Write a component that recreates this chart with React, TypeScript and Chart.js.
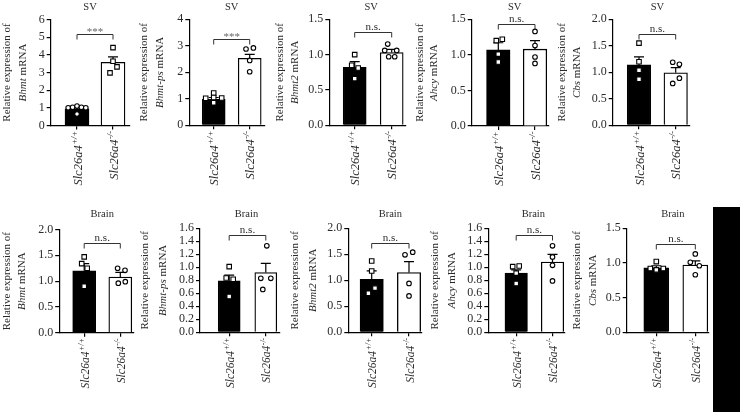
import React, { useEffect, useRef } from 'react';
import { Chart, registerables } from 'chart.js';

Chart.register(...registerables);

const FONT = '"Liberation Serif", "Times New Roman", Times, serif';
const TEXT = '#2a2a2a';

// ---------- data ----------
const rowTitles = ['SV', 'Brain'];
const genes = ['Bhmt', 'Bhmt-ps', 'Bhmt2', 'Ahcy', 'Cbs', 'Bhmt', 'Bhmt-ps', 'Bhmt2', 'Ahcy', 'Cbs'];
const groupNames = ['Slc26a4', 'Slc26a4'];
const groupGenotypes = ['+/+', '-/-'];

const yMax = [6, 4, 1.5, 1.5, 2, 2, 1.6, 2, 1.6, 1.5];
const yStep = [1, 1, 0.5, 0.5, 0.5, 0.5, 0.2, 0.5, 0.2, 0.5];

const wtMean = [0.95, 0.98, 0.82, 1.07, 1.14, 1.2, 0.79, 1.02, 0.91, 0.93];
const wtSem = [0.08, 0.07, 0.08, 0.1, 0.15, 0.14, 0.09, 0.16, 0.05, 0.03];
const koMean = [3.58, 2.53, 1.03, 1.08, 0.99, 1.08, 0.92, 1.15, 1.08, 0.97];
const koSem = [0.3, 0.15, 0.045, 0.12, 0.1, 0.09, 0.14, 0.21, 0.12, 0.06];

const wtPoints = [
  [1.0, 1.03, 1.1, 1.03, 1.0, 0.65],
  [1.22, 1.02, 1.05, 1.03, 0.85],
  [1.0, 0.85, 0.81, 0.66],
  [1.2, 1.22, 1.01, 0.9],
  [1.55, 1.2, 1.04, 0.87],
  [1.47, 1.34, 1.25, 0.9],
  [1.01, 0.835, 0.815, 0.55],
  [1.37, 1.18, 0.85, 0.75],
  [1.01, 1.02, 0.91, 0.75],
  [1.02, 0.92, 0.9, 0.92],
];
const koPoints = [
  [4.41, 3.64, 3.32, 2.98],
  [2.88, 2.92, 2.45, 2.02],
  [1.15, 1.06, 1.06, 0.97, 0.97],
  [1.33, 1.13, 0.97, 0.88],
  [1.19, 1.15, 0.79, 0.89],
  [1.25, 1.21, 0.96, 0.99],
  [1.33, 0.83, 0.83, 0.66],
  [1.49, 1.54, 0.94, 0.7],
  [1.33, 1.16, 1.03, 0.79],
  [1.13, 1.01, 0.96, 0.83],
];
const sigLabel = ['***', '***', 'n.s.', 'n.s.', 'n.s.', 'n.s.', 'n.s.', 'n.s.', 'n.s.', 'n.s.'];
const sigHeight = [5.18, 3.25, 1.32, 1.44, 1.72, 1.73, 1.49, 1.71, 1.49, 1.27];

// ---------- layout (pixels) ----------
type Layout = {
  axX: number; xEnd: number; yTop: number; y0: number; c1: number; c2: number; barW: number;
  lab1: number; lab2: number; titleDx: number; wtJit: number[]; koJit: number[];
  wtShape: string; koShape: string;
};
const LAYOUT: Layout[] = [
  { axX: 50.7, xEnd: 130, yTop: 19.5, y0: 125.5, c1: 77, c2: 113, barW: 24, lab1: -44, lab2: -28, titleDx: -5, wtJit: [-8.8, -4.4, 0, 4.4, 8.8, 0], koJit: [0, 0, 4, -3], wtShape: 'circle', koShape: 'rect' },
  { axX: 189.3, xEnd: 265, yTop: 19.3, y0: 125.3, c1: 213.7, c2: 249.7, barW: 23, lab1: -45, lab2: -29, titleDx: 0, wtJit: [0, -8, 0, 8, 0], koJit: [-3.7, 3.7, 0, 0], wtShape: 'rect', koShape: 'circle' },
  { axX: 329.3, xEnd: 406, yTop: 19.3, y0: 125.3, c1: 354.7, c2: 391.7, barW: 23, lab1: -49, lab2: -34, titleDx: -2, wtJit: [0, -3, 3.5, 0], koJit: [-4, -7, 5, -3, 3], wtShape: 'rect', koShape: 'circle' },
  { axX: 471.7, xEnd: 548.3, yTop: 19.3, y0: 126, c1: 498.3, c2: 535, barW: 23.5, lab1: -52, lab2: -38, titleDx: -2, wtJit: [-2, 4, 0, 0], koJit: [0, 0, 0, 0], wtShape: 'rect', koShape: 'circle' },
  { axX: 612.7, xEnd: 690, yTop: 19.3, y0: 125.3, c1: 639, c2: 675.7, barW: 23.5, lab1: -51, lab2: -36, titleDx: 0, wtJit: [0, 0, 0, 0], koJit: [-3, 3.7, -3, 3.7], wtShape: 'rect', koShape: 'circle' },
  { axX: 59.2, xEnd: 133.3, yTop: 229.5, y0: 332.8, c1: 84.2, c2: 120.3, barW: 23, lab1: -52, lab2: -37, titleDx: 0, wtJit: [0, -2.5, 3, 0], koJit: [-2.7, 4.7, -2, 5], wtShape: 'rect', koShape: 'circle' },
  { axX: 200, xEnd: 279.3, yTop: 228.3, y0: 332.3, c1: 229.2, c2: 265.8, barW: 22, lab1: -55, lab2: -37, titleDx: -1, wtJit: [0, -3, 4, 0], koJit: [1, -5, 5, -3], wtShape: 'rect', koShape: 'circle' },
  { axX: 348.3, xEnd: 421.7, yTop: 228.3, y0: 332.3, c1: 371.7, c2: 409, barW: 23.3, lab1: -53, lab2: -35, titleDx: 0, wtJit: [0, 0, 3.3, -3.3], koJit: [-4, 3.7, 0, 0], wtShape: 'rect', koShape: 'circle' },
  { axX: 488.3, xEnd: 565, yTop: 228.3, y0: 332.3, c1: 516.2, c2: 552.5, barW: 22.5, lab1: -53, lab2: -36, titleDx: -1, wtJit: [-3.5, 3, 0, 0], koJit: [0, 0, 0, 0], wtShape: 'rect', koShape: 'circle' },
  { axX: 626.7, xEnd: 709, yTop: 228.3, y0: 332.3, c1: 656.3, c2: 695.3, barW: 25, lab1: -50, lab2: -34, titleDx: -3, wtJit: [0, -6, 0, 7], koJit: [0, -5, 4, 0], wtShape: 'rect', koShape: 'circle' },
];

function Panel({ idx }: { idx: number }) {
  const ref = useRef<HTMLCanvasElement | null>(null);
  const L = LAYOUT[idx];
  const row = idx < 5 ? 0 : 1;
  const top = row === 0 ? 0 : 200;
  const height = row === 0 ? 200 : 212;
  const left = Math.floor(L.axX) - 62;
  const width = Math.ceil(L.xEnd) + 8 - left;

  useEffect(() => {
    const canvas = ref.current;
    if (!canvas) return;
    const spacing = L.c2 - L.c1;
    const xMin = 1 - (L.c1 - L.axX) / spacing;
    const xMax = 2 + (L.xEnd - L.c2) / spacing;
    const YW = 40;
    const XH = 10;
    const padding = {
      left: L.axX - left - YW,
      top: L.yTop - top,
      right: width - (L.xEnd - left),
      bottom: height - (L.y0 - top) - XH,
    };
    const step = yStep[idx];
    const fmt = (v: number) => (step < 1 ? Number(v).toFixed(1) : String(Math.round(Number(v))));
    const toX = (j: number, off: number) => j + 1 + off / spacing;
    const wtData = wtPoints[idx].map((v, k) => ({ x: toX(0, L.wtJit[k] || 0), y: v }));
    const koData = koPoints[idx].map((v, k) => ({ x: toX(1, L.koJit[k] || 0), y: v }));
    const radiusFor = (s: string) => (s === 'rect' ? 3.2 : 2.3);

    const decor = {
      id: 'panelDecor',
      afterDatasetDraw(chart: any, args: any) {
        if (args.index !== 0) return;
        const ctx = chart.ctx;
        const xs = chart.scales.x;
        const ys = chart.scales.y;
        const means = [wtMean[idx], koMean[idx]];
        const sems = [wtSem[idx], koSem[idx]];
        ctx.save();
        ctx.strokeStyle = '#000';
        ctx.lineWidth = 1.2;
        means.forEach((m, j) => {
          const x = xs.getPixelForValue(j + 1);
          const y1 = ys.getPixelForValue(m);
          const y2 = ys.getPixelForValue(m + sems[j]);
          ctx.beginPath();
          ctx.moveTo(x, y1);
          ctx.lineTo(x, y2);
          ctx.moveTo(x - 5, y2);
          ctx.lineTo(x + 5, y2);
          ctx.stroke();
        });
        ctx.restore();
      },
      afterDraw(chart: any) {
        const ctx = chart.ctx;
        const ca = chart.chartArea;
        const xs = chart.scales.x;
        const ys = chart.scales.y;
        const x1 = xs.getPixelForValue(1);
        const x2 = xs.getPixelForValue(2);
        const mid = (x1 + x2) / 2;
        ctx.save();
        // panel title
        ctx.fillStyle = TEXT;
        ctx.font = `10.5px ${FONT}`;
        ctx.textAlign = 'center';
        ctx.textBaseline = 'alphabetic';
        ctx.fillText(rowTitles[row], mid + L.titleDx, (row === 0 ? 9.5 : 217) - top);
        // significance bracket
        const by = Math.round(ys.getPixelForValue(sigHeight[idx])) + 0.5;
        ctx.strokeStyle = '#333';
        ctx.lineWidth = 1;
        ctx.beginPath();
        ctx.moveTo(x1, by + 5);
        ctx.lineTo(x1, by);
        ctx.lineTo(x2, by);
        ctx.lineTo(x2, by + 5);
        ctx.stroke();
        const lab = sigLabel[idx];
        ctx.font = `11px ${FONT}`;
        ctx.fillStyle = lab === '***' ? '#666' : TEXT;
        ctx.fillText(lab, mid, by - (lab === '***' ? 0 : 3));
        // y axis title (two rotated lines)
        ctx.fillStyle = TEXT;
        const midY = (ca.top + ca.bottom) / 2;
        ctx.save();
        ctx.translate(L.axX + L.lab1 - left, midY);
        ctx.rotate(-Math.PI / 2);
        ctx.font = `11px ${FONT}`;
        ctx.textAlign = 'center';
        ctx.textBaseline = 'middle';
        ctx.fillText('Relative expression of', 0, 0);
        ctx.restore();
        ctx.save();
        ctx.translate(L.axX + L.lab2 - left, midY);
        ctx.rotate(-Math.PI / 2);
        const fi = `italic 11px ${FONT}`;
        const fr = `11px ${FONT}`;
        ctx.textBaseline = 'middle';
        ctx.textAlign = 'left';
        ctx.font = fi;
        const gw = ctx.measureText(genes[idx]).width;
        ctx.font = fr;
        const mw = ctx.measureText(' mRNA').width;
        const st = -(gw + mw) / 2;
        ctx.font = fi;
        ctx.fillText(genes[idx], st, 0);
        ctx.font = fr;
        ctx.fillText(' mRNA', st + gw, 0);
        ctx.restore();
        // x category labels (rotated, italic with superscript)
        const size = row === 0 ? 12.5 : 11.5;
        const sup = size * 0.68;
        [x1, x2].forEach((xc, j) => {
          ctx.save();
          ctx.translate(xc + 1.5, ca.bottom + 6);
          ctx.rotate(-Math.PI / 2);
          ctx.textBaseline = 'middle';
          ctx.textAlign = 'left';
          ctx.font = `italic ${size}px ${FONT}`;
          const w1 = ctx.measureText(groupNames[j]).width;
          ctx.font = `italic ${sup}px ${FONT}`;
          const w2 = ctx.measureText(groupGenotypes[j]).width;
          const start = -(w1 + w2);
          ctx.font = `italic ${size}px ${FONT}`;
          ctx.fillText(groupNames[j], start, 0);
          ctx.font = `italic ${sup}px ${FONT}`;
          ctx.fillText(groupGenotypes[j], start + w1 + 0.5, -size * 0.33);
          ctx.restore();
        });
        ctx.restore();
      },
    };

    const chart = new Chart(canvas, {
      type: 'bar',
      data: {
        datasets: [
          {
            type: 'bar',
            data: [
              { x: 1, y: wtMean[idx] },
              { x: 2, y: koMean[idx] },
            ],
            backgroundColor: ['#000', '#fff'],
            borderColor: '#000',
            borderWidth: 1.3,
            barThickness: L.barW,
            order: 1,
          } as any,
          {
            type: 'scatter',
            data: wtData,
            pointStyle: L.wtShape,
            radius: radiusFor(L.wtShape),
            backgroundColor: '#fff',
            borderColor: '#000',
            borderWidth: 1.1,
            order: 0,
          } as any,
          {
            type: 'scatter',
            data: koData,
            pointStyle: L.koShape,
            radius: radiusFor(L.koShape),
            backgroundColor: '#fff',
            borderColor: '#000',
            borderWidth: 1.1,
            order: 0,
          } as any,
        ],
      },
      options: {
        responsive: false,
        animation: false,
        events: [],
        layout: { padding },
        plugins: { legend: { display: false }, tooltip: { enabled: false }, title: { display: false } },
        scales: {
          x: {
            type: 'linear',
            min: xMin,
            max: xMax,
            offset: false,
            afterBuildTicks: (axis: any) => {
              axis.ticks = [{ value: 1 }, { value: 2 }];
            },
            afterFit: (axis: any) => {
              axis.height = XH;
            },
            grid: { offset: false, drawOnChartArea: false, drawTicks: true, tickLength: 4, color: '#000', lineWidth: 1.2 },
            border: { display: true, color: '#000', width: 1.2 },
            ticks: { display: false },
          },
          y: {
            type: 'linear',
            min: 0,
            max: yMax[idx],
            afterFit: (axis: any) => {
              axis.width = YW;
            },
            ticks: {
              stepSize: step,
              autoSkip: false,
              padding: 2,
              color: TEXT,
              font: { family: FONT, size: 12 },
              callback: (v: any) => fmt(v),
            },
            grid: { drawOnChartArea: false, drawTicks: true, tickLength: 4, color: '#000', lineWidth: 1.2 },
            border: { display: true, color: '#000', width: 1.2 },
          },
        },
      } as any,
      plugins: [decor as any],
    });
    return () => chart.destroy();
  }, [idx]);

  return (
    <canvas
      ref={ref}
      width={width}
      height={height}
      style={{ position: 'absolute', left, top, width, height }}
    />
  );
}

export default function App() {
  return (
    <div style={{ position: 'fixed', left: 0, top: 0, width: 740, height: 412, background: '#fff', overflow: 'hidden' }}>
      {LAYOUT.map((_, i) => (
        <Panel key={i} idx={i} />
      ))}
      <div style={{ position: 'absolute', left: 713, top: 207, width: 27, height: 205, background: '#000' }} />
    </div>
  );
}
